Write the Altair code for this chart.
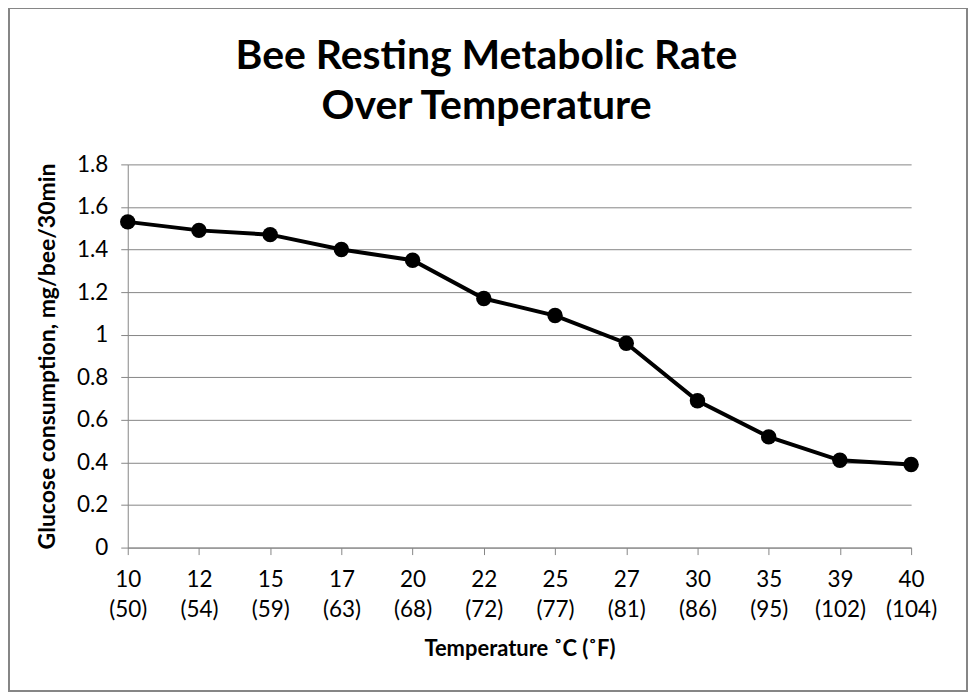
import pandas as pd
import altair as alt

# temperatures (Celsius and Fahrenheit) and resting metabolic rate
temp_c = [10, 12, 15, 17, 20, 22, 25, 27, 30, 35, 39, 40]
temp_f = [50, 54, 59, 63, 68, 72, 77, 81, 86, 95, 102, 104]
glucose = [1.53, 1.49, 1.47, 1.40, 1.35, 1.17, 1.09, 0.96, 0.69, 0.52, 0.41, 0.39]
y_ticks = [0, 0.2, 0.4, 0.6, 0.8, 1.0, 1.2, 1.4, 1.6, 1.8]

df = pd.DataFrame({
    "temp": [f"{c} ({f})" for c, f in zip(temp_c, temp_f)],
    "glucose": glucose})

font = "Lato"
gray = "#868686"

x_enc = alt.X(
    "temp:N",
    sort=None,
    scale=alt.Scale(type="point", padding=0),
    title="Temperature ˚C (˚F)",
    axis=alt.Axis(
        labelExpr="split(datum.label, ' ')",
        labelAngle=0,
        labelFontSize=22.5,
        labelPadding=14,
        labelLineHeight=30,
        titleFontSize=22,
        titlePadding=18,
        tickSize=7,
        domainColor=gray,
        tickColor=gray,
        grid=False))

y_enc = alt.Y(
    "glucose:Q",
    scale=alt.Scale(domain=[0, 1.8], nice=False),
    title="Glucose consumption, mg/bee/30min",
    axis=alt.Axis(
        values=y_ticks,
        format=".1~f",
        labelFontSize=22.5,
        labelPadding=13,
        titleFontSize=23,
        titlePadding=17,
        tickSize=7,
        domainColor=gray,
        tickColor=gray,
        gridColor=gray))

line = alt.Chart(df).mark_line(
    color="black", strokeWidth=4,
    point=alt.OverlayMarkDef(filled=True, color="black", size=240, opacity=1)
).encode(x=x_enc, y=y_enc)

# outer chart frame like the spreadsheet chart area border
frame = alt.Chart(df).mark_rect(
    fill=None, stroke=gray, strokeWidth=1.5).encode(
    x=alt.value(-119), x2=alt.value(841),
    y=alt.value(-157), y2=alt.value(528))

# title sits inside the frame, so it is pulled down with a negative offset
chart = (frame + line).properties(
    width=785,
    height=384,
    autosize=alt.AutoSizeParams(type="none"),
    padding={"left": 120, "top": 156, "right": 58, "bottom": 147},
    title=alt.TitleParams(
        text=["Bee Resting Metabolic Rate", "Over Temperature"],
        fontSize=41,
        fontWeight="bold",
        lineHeight=50,
        dx=-33,
        offset=-121,
        anchor="middle"))

chart = chart.configure(font=font).configure_axis(
    labelColor="black",
    titleColor="black",
    titleFontWeight="bold",
    labelFont=font,
    titleFont=font).configure_title(
    font=font, color="black").configure_view(
    stroke=None)

chart.save("out.html", embed_options={"renderer": "svg", "actions": False})
